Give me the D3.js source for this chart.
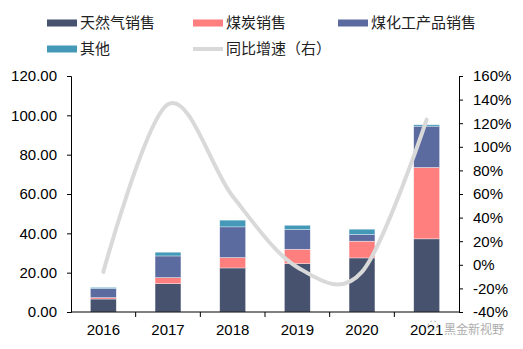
<!DOCTYPE html>
<html>
<head>
<meta charset="utf-8">
<script src="https://cdn.jsdelivr.net/npm/d3@7"></script>
<style>
  body { margin: 0; background: #fff; }
  svg { display: block; font-family: "Liberation Sans", Arial, "Noto Sans CJK SC", sans-serif; }
</style>
</head>
<body>
<svg id="chart" width="523" height="349"></svg>
<script>
// data
const years = ["2016", "2017", "2018", "2019", "2020", "2021"];
const gas = [6.6, 14.4, 22.4, 24.6, 27.5, 37.2];
const coal = [0.7, 3.1, 5.3, 7.3, 8.5, 36.3];
const chem = [4.6, 11.0, 15.6, 10.0, 3.4, 21.0];
const other = [0.6, 1.9, 3.4, 2.2, 2.7, 0.7];
const growth = [-6, 136, 58, -2, -6, 123];
const leftTicks = [0, 20, 40, 60, 80, 100, 120];
const rightTicks = [-40, -20, 0, 20, 40, 60, 80, 100, 120, 140, 160];

const seriesNames = ["天然气销售", "煤炭销售", "煤化工产品销售", "其他"];
const seriesColors = ["#47526f", "#ff7f7f", "#5b6a9f", "#4499b8"];
const LINE_COLOR = "#d9d9d9";

const svg = d3.select("#chart");

const L = 71, R = 459, TOP = 76, BOTTOM = 312;

const x = d3.scaleBand().domain(years).range([L, R]).paddingInner(0.6).paddingOuter(0.3);
const y = d3.scaleLinear().domain([0, 120]).range([BOTTOM, TOP]);
const y2 = d3.scaleLinear().domain([-40, 160]).range([BOTTOM, TOP]);

// stacked bars
const rows = years.map((yr, i) => ({year: yr, s0: gas[i], s1: coal[i], s2: chem[i], s3: other[i]}));
const stack = d3.stack().keys(["s0", "s1", "s2", "s3"])(rows);

svg.append("g")
  .selectAll("g")
  .data(stack)
  .enter()
  .append("g")
  .attr("fill", (d, i) => seriesColors[i])
  .selectAll("rect")
  .data(d => d)
  .enter()
  .append("rect")
  .attr("x", d => x(d.data.year))
  .attr("y", d => y(d[1]))
  .attr("width", x.bandwidth())
  .attr("height", d => y(d[0]) - y(d[1]))
  .attr("stroke", "#ffffff")
  .attr("stroke-opacity", 0.6)
  .attr("stroke-width", 0.6);

// growth line
const line = d3.line()
  .x((d, i) => x(years[i]) + x.bandwidth() / 2)
  .y(d => y2(d))
  .curve(d3.curveCardinal.tension(0));

svg.append("path")
  .datum(growth)
  .attr("d", line)
  .attr("fill", "none")
  .attr("stroke", LINE_COLOR)
  .attr("stroke-width", 4)
  .attr("stroke-linecap", "round");

// axes
const leftAxis = svg.append("g")
  .attr("transform", `translate(${L},0)`)
  .call(d3.axisLeft(y).tickValues(leftTicks).tickFormat(d3.format(".2f")).tickSize(4).tickPadding(10));

const rightAxis = svg.append("g")
  .attr("transform", `translate(${R},0)`)
  .call(d3.axisRight(y2).tickValues(rightTicks).tickFormat(d => d + "%").tickSize(4).tickPadding(10));

const bottomAxis = svg.append("g")
  .attr("transform", `translate(0,${BOTTOM})`)
  .call(d3.axisBottom(x).tickSize(0).tickPadding(12));

// x ticks sit between the categories
bottomAxis.selectAll(".between")
  .data(d3.range(1, years.length))
  .enter()
  .append("line")
  .attr("class", "between")
  .attr("x1", i => L + i * (R - L) / years.length)
  .attr("x2", i => L + i * (R - L) / years.length)
  .attr("y1", 0)
  .attr("y2", 5)
  .attr("stroke", "#000");
bottomAxis.select(".domain").attr("d", `M${L},0H${R}`);

[leftAxis, rightAxis, bottomAxis].forEach(a => {
  a.selectAll("text").style("font-size", "15px").style("font-family", "Liberation Sans, Arial, sans-serif").attr("fill", "#000");
  a.selectAll(".domain, .tick line").attr("stroke", "#000");
});

// legend
const legendItems = [
  {name: seriesNames[0], color: seriesColors[0], x: 47, y: 23, line: false},
  {name: seriesNames[1], color: seriesColors[1], x: 193, y: 23, line: false},
  {name: seriesNames[2], color: seriesColors[2], x: 338, y: 23, line: false},
  {name: seriesNames[3], color: seriesColors[3], x: 47, y: 49, line: false},
  {name: "同比增速（右）", color: LINE_COLOR, x: 193, y: 49, line: true}
];

const legend = svg.append("g")
  .selectAll("g")
  .data(legendItems)
  .enter()
  .append("g")
  .attr("transform", d => `translate(${d.x},${d.y})`);

legend.append("rect")
  .attr("x", 0)
  .attr("y", d => d.line ? -2 : -3.5)
  .attr("width", 30)
  .attr("height", d => d.line ? 4 : 7)
  .attr("fill", d => d.color);

legend.append("text")
  .attr("x", 33)
  .attr("y", 0)
  .attr("dy", "0.36em")
  .style("font-size", "15px")
  .style("font-family", "Noto Sans CJK SC, sans-serif")
  .attr("fill", "#222")
  .text(d => d.name);

// watermark
svg.append("text")
  .attr("x", 444)
  .attr("y", 334)
  .style("font-size", "12px")
  .style("font-family", "Noto Sans CJK SC, sans-serif")
  .attr("fill", "#999")
  .attr("opacity", 0.8)
  .text("黑金新视野");
svg.append("circle")
  .attr("cx", 433)
  .attr("cy", 326)
  .attr("r", 5)
  .attr("fill", "none")
  .attr("stroke", "#bbb")
  .attr("stroke-dasharray", "2,2");
</script>
</body>
</html>
